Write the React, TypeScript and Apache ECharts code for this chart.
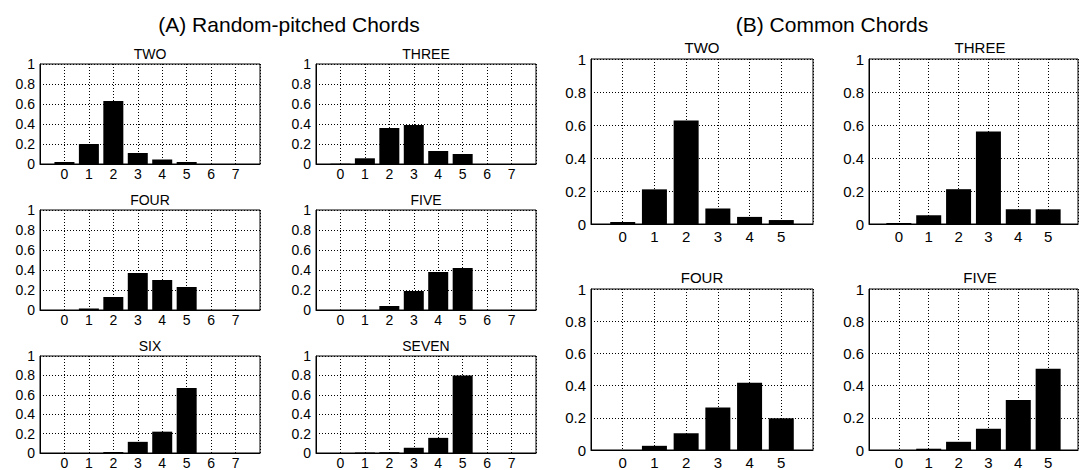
import React, { useEffect, useRef } from "react";
import * as echarts from "echarts";

const catsA = [0, 1, 2, 3, 4, 5, 6, 7];
const catsB = [0, 1, 2, 3, 4, 5];

const aTwo = [0.02, 0.2, 0.63, 0.11, 0.045, 0.02, 0, 0];
const aThree = [0.003, 0.057, 0.36, 0.39, 0.13, 0.1, 0, 0];
const aFour = [0, 0.015, 0.13, 0.37, 0.3, 0.23, 0, 0];
const aFive = [0, 0, 0.04, 0.19, 0.38, 0.42, 0, 0];
const aSix = [0, 0, 0.01, 0.115, 0.22, 0.67, 0, 0];
const aSeven = [0, 0.005, 0.008, 0.054, 0.156, 0.8, 0, 0];

const bTwo = [0.012, 0.21, 0.628, 0.094, 0.043, 0.024];
const bThree = [0.006, 0.053, 0.211, 0.561, 0.089, 0.089];
const bFour = [0, 0.026, 0.104, 0.264, 0.417, 0.197];
const bFive = [0, 0.008, 0.051, 0.132, 0.311, 0.504];

const yTicks = [0, 0.2, 0.4, 0.6, 0.8, 1];

const titleA = "(A) Random-pitched Chords";
const titleB = "(B) Common Chords";

const FONT = "'Liberation Sans', Arial, Helvetica, sans-serif";

type Panel = {
  name: string;
  cats: number[];
  values: number[];
  left: number;
  top: number;
  width: number;
  height: number;
  barWidth: number;
  titleOffset: number;
  fontSize: number;
  labelMargin: number;
};

const panels: Panel[] = [
  { name: "TWO", cats: catsA, values: aTwo, left: 40, top: 64, width: 220, height: 100, barWidth: 20, titleOffset: 10, fontSize: 14, labelMargin: 3 },
  { name: "THREE", cats: catsA, values: aThree, left: 316, top: 64, width: 220, height: 100, barWidth: 20, titleOffset: 10, fontSize: 14, labelMargin: 3 },
  { name: "FOUR", cats: catsA, values: aFour, left: 40, top: 210, width: 220, height: 100, barWidth: 20, titleOffset: 10, fontSize: 14, labelMargin: 3 },
  { name: "FIVE", cats: catsA, values: aFive, left: 316, top: 210, width: 220, height: 100, barWidth: 20, titleOffset: 10, fontSize: 14, labelMargin: 3 },
  { name: "SIX", cats: catsA, values: aSix, left: 40, top: 356, width: 220, height: 99, barWidth: 20, titleOffset: 10, fontSize: 14, labelMargin: 3 },
  { name: "SEVEN", cats: catsA, values: aSeven, left: 316, top: 356, width: 220, height: 99, barWidth: 20, titleOffset: 10, fontSize: 14, labelMargin: 3 },
  { name: "TWO", cats: catsB, values: bTwo, left: 591, top: 59, width: 222, height: 165, barWidth: 25, titleOffset: 12, fontSize: 15, labelMargin: 5 },
  { name: "THREE", cats: catsB, values: bThree, left: 869, top: 59, width: 222, height: 165, barWidth: 25, titleOffset: 12, fontSize: 15, labelMargin: 5 },
  { name: "FOUR", cats: catsB, values: bFour, left: 591, top: 289, width: 222, height: 165, barWidth: 25, titleOffset: 12, fontSize: 15, labelMargin: 5 },
  { name: "FIVE", cats: catsB, values: bFive, left: 869, top: 289, width: 222, height: 165, barWidth: 25, titleOffset: 12, fontSize: 15, labelMargin: 5 },
];

const dotted = { color: "#000", width: 1, type: [1, 2] as number[] };

function buildOption() {
  const grid: any[] = [];
  const xAxis: any[] = [];
  const yAxis: any[] = [];
  const series: any[] = [];
  const graphic: any[] = [];

  panels.forEach((p, i) => {
    const xMin = -1;
    const lastCat = p.cats[p.cats.length - 1];
    const xMax = lastCat + 1;
    grid.push({
      left: p.left,
      top: p.top,
      width: p.width,
      height: p.height,
      show: true,
      borderColor: "#000",
      borderWidth: 1,
      backgroundColor: "#fff",
      containLabel: false,
    });
    xAxis.push({
      type: "value",
      gridIndex: i,
      min: xMin,
      max: xMax,
      interval: 1,
      axisLine: { show: true, onZero: false, lineStyle: { color: "#000", width: 1 } },
      axisTick: { show: false },
      axisLabel: {
        show: true,
        color: "#000",
        fontFamily: FONT,
        fontSize: p.fontSize,
        margin: p.labelMargin,
        formatter: (v: number) => (v < 0 || v > lastCat ? "" : String(v)),
      },
      splitLine: { show: true, lineStyle: dotted },
    });
    yAxis.push({
      type: "value",
      gridIndex: i,
      min: yTicks[0],
      max: yTicks[yTicks.length - 1],
      interval: 0.2,
      axisLine: { show: true, onZero: false, lineStyle: { color: "#000", width: 1 } },
      axisTick: { show: false },
      axisLabel: {
        show: true,
        color: "#000",
        fontFamily: FONT,
        fontSize: p.fontSize,
        margin: 5,
        formatter: (v: number) => String(Math.round(v * 10) / 10),
      },
      splitLine: { show: true, lineStyle: dotted },
    });
    series.push({
      type: "bar",
      xAxisIndex: i,
      yAxisIndex: i,
      barWidth: p.barWidth,
      data: p.cats.map((c, k) => [c, p.values[k]]),
      itemStyle: { color: "#000", borderWidth: 0 },
      silent: true,
    });
    graphic.push({
      type: "text",
      x: p.left + p.width / 2,
      y: p.top - p.titleOffset,
      style: {
        text: p.name,
        fill: "#000",
        font: `${p.fontSize}px ${FONT}`,
        align: "center",
        verticalAlign: "middle",
      },
    });
  });

  graphic.push({
    type: "text",
    x: 289,
    y: 24,
    style: { text: titleA, fill: "#000", font: `21px ${FONT}`, align: "center", verticalAlign: "middle" },
  });
  graphic.push({
    type: "text",
    x: 832,
    y: 24,
    style: { text: titleB, fill: "#000", font: `21px ${FONT}`, align: "center", verticalAlign: "middle" },
  });

  return {
    animation: false,
    backgroundColor: "#fff",
    textStyle: { fontFamily: FONT },
    grid,
    xAxis,
    yAxis,
    series,
    graphic,
  };
}

export default function App() {
  const ref = useRef<HTMLDivElement>(null);
  useEffect(() => {
    if (!ref.current) return;
    const chart = echarts.init(ref.current, undefined, { renderer: "svg" });
    chart.setOption(buildOption() as any);
    return () => chart.dispose();
  }, []);
  return (
    <div
      ref={ref}
      style={{ position: "fixed", left: 0, top: 0, width: 1081, height: 470, background: "#fff" }}
    />
  );
}
